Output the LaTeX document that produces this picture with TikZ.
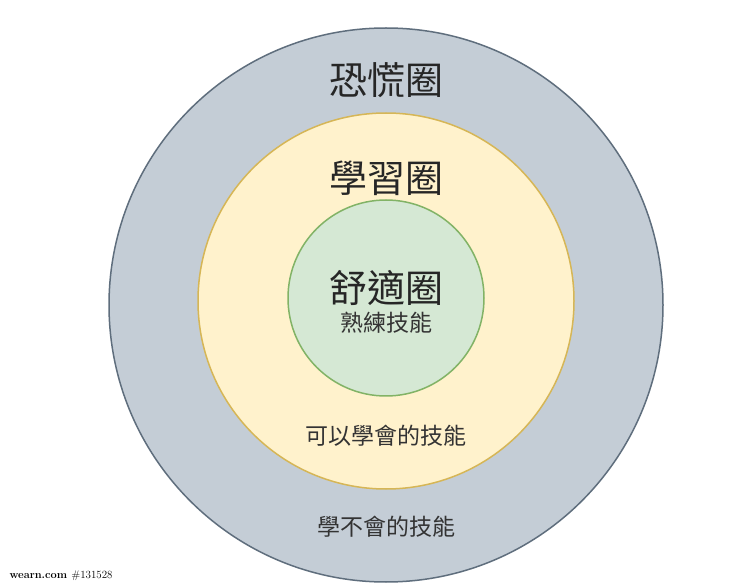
\documentclass[tikz,border=0pt]{standalone}
\usepackage{fontspec}
\newfontfamily\cjk{Noto Sans CJK TC}
\begin{document}
\begin{tikzpicture}[x=1pt,y=-1pt,
  ring/.style={circle,line width=1.5pt,inner sep=0pt},
  big/.style={font=\cjk\fontsize{38}{42}\selectfont,text=black!85},
  small/.style={font=\cjk\fontsize{23}{26}\selectfont,text=black!80}]
\useasboundingbox (0,0) rectangle (740,588);
\fill[white] (0,0) rectangle (740,588);
\node[ring,draw={rgb,255:red,95;green,110;blue,125},fill={rgb,255:red,196;green,205;blue,214},minimum size=554pt] (outer) at (386,305) {};
\node[ring,draw={rgb,255:red,214;green,182;blue,86},fill={rgb,255:red,255;green,242;blue,204},minimum size=376pt] (mid) at (386,301) {};
\node[ring,draw={rgb,255:red,130;green,179;blue,102},fill={rgb,255:red,213;green,232;blue,212},minimum size=196pt] (inner) at (386,298) {};
\node[big] (t1) at (386,80) {恐慌圈};
\node[big] (t2) at (386,178) {學習圈};
\node[big] (t3) at (386,288) {舒適圈};
\node[small] (s1) at (386,323) {熟練技能};
\node[small] (s2) at (386,436) {可以學會的技能};
\node[small] (s3) at (386,527) {學不會的技能};
\node[anchor=west,font=\bfseries\fontsize{11}{12}\selectfont] (wm) at (6,576) {wearn.com {\mdseries\#131528}};
\end{tikzpicture}
\end{document}
